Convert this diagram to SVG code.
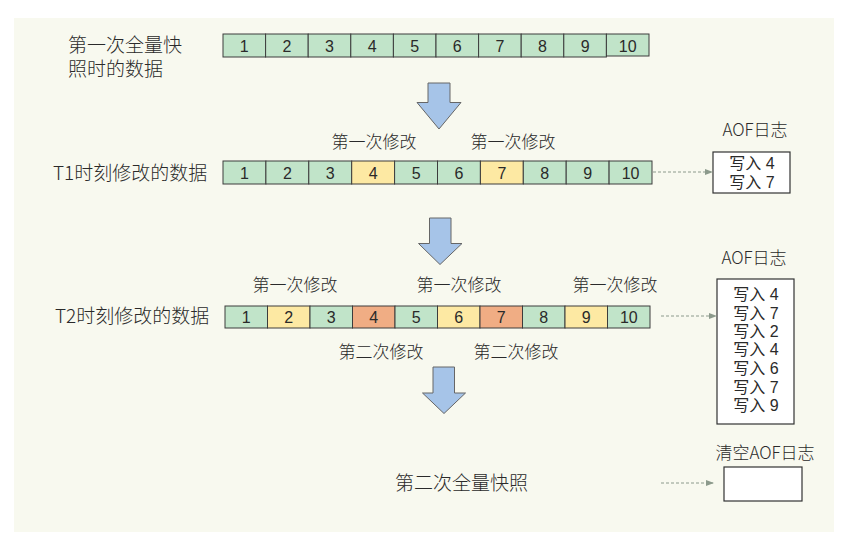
<svg xmlns="http://www.w3.org/2000/svg" width="848" height="546" viewBox="0 0 848 546">
<style>
text{font-family:"Liberation Sans","Noto Sans CJK SC",sans-serif;fill:#2a2a2a;dominant-baseline:central}
.cjk{font-family:"Noto Sans CJK SC",sans-serif;font-weight:300}
.lbl{font-size:19px}
.mod{font-size:17px;text-anchor:middle}
.num{font-size:16px;text-anchor:middle}
.log{font-size:16px;text-anchor:middle}
.g{fill:#c1e4c9;stroke:#3c3c3c;stroke-width:1}
.y{fill:#fde9a3;stroke:#3c3c3c;stroke-width:1}
.o{fill:#f0ad84;stroke:#3c3c3c;stroke-width:1}
.box{fill:#fff;stroke:#333;stroke-width:1.2}
.big{fill:#a6c4e8;stroke:#666;stroke-width:1}
.dash{stroke:#8c9a8c;stroke-width:1;stroke-dasharray:3,2;fill:none}
</style>
<defs>
<marker id="ah" viewBox="0 0 8 8" refX="7" refY="4" markerWidth="8" markerHeight="8" markerUnits="userSpaceOnUse" orient="auto">
<path d="M0,1 L8,4 L0,7 Z" fill="#8c9a8c"/>
</marker>
</defs>
<rect x="0" y="0" width="848" height="546" fill="#fff"/>
<rect x="14" y="18" width="820" height="514" fill="#f8f9ef"/>

<g id="row1">
<text class="lbl cjk" x="68" y="43.5">第一次全量快</text>
<text class="lbl cjk" x="68" y="67">照时的数据</text>
<rect class="g" x="223" y="34" width="42.6" height="23"/>
<rect class="g" x="265.6" y="34" width="42.6" height="23"/>
<rect class="g" x="308.2" y="34" width="42.6" height="23"/>
<rect class="g" x="350.8" y="34" width="42.6" height="23"/>
<rect class="g" x="393.4" y="34" width="42.6" height="23"/>
<rect class="g" x="436" y="34" width="42.6" height="23"/>
<rect class="g" x="478.6" y="34" width="42.6" height="23"/>
<rect class="g" x="521.2" y="34" width="42.6" height="23"/>
<rect class="g" x="563.8" y="34" width="42.6" height="23"/>
<rect class="g" x="606.4" y="34" width="42.6" height="22"/>
<text class="num" x="244.3" y="46">1</text>
<text class="num" x="286.9" y="46">2</text>
<text class="num" x="329.5" y="46">3</text>
<text class="num" x="372.1" y="46">4</text>
<text class="num" x="414.7" y="46">5</text>
<text class="num" x="457.3" y="46">6</text>
<text class="num" x="499.9" y="46">7</text>
<text class="num" x="542.5" y="46">8</text>
<text class="num" x="585.1" y="46">9</text>
<text class="num" x="627.7" y="46">10</text>
</g>

<g id="arrow1"><path class="big" d="M428,83 H450 V102.5 H461 L439,129 L417,102.5 H428 Z"/></g>

<g id="row2">
<text class="lbl cjk" x="53" y="171">T1时刻修改的数据</text>
<text class="mod cjk" x="374" y="140.5">第一次修改</text>
<text class="mod cjk" x="513" y="140.5">第一次修改</text>
<rect class="g" x="223" y="161" width="42.9" height="23"/>
<rect class="g" x="265.9" y="161" width="42.9" height="23"/>
<rect class="g" x="308.8" y="161" width="42.9" height="23"/>
<rect class="y" x="351.7" y="161" width="42.9" height="23"/>
<rect class="g" x="394.6" y="161" width="42.9" height="23"/>
<rect class="g" x="437.5" y="161" width="42.9" height="23"/>
<rect class="y" x="480.4" y="161" width="42.9" height="23"/>
<rect class="g" x="523.3" y="161" width="42.9" height="23"/>
<rect class="g" x="566.2" y="161" width="42.9" height="23"/>
<rect class="g" x="609.1" y="161" width="42.9" height="23"/>
<text class="num" x="244.5" y="173">1</text>
<text class="num" x="287.4" y="173">2</text>
<text class="num" x="330.3" y="173">3</text>
<text class="num" x="373.2" y="173">4</text>
<text class="num" x="416.1" y="173">5</text>
<text class="num" x="459" y="173">6</text>
<text class="num" x="501.9" y="173">7</text>
<text class="num" x="544.8" y="173">8</text>
<text class="num" x="587.7" y="173">9</text>
<text class="num" x="630.6" y="173">10</text>
</g>

<g id="aof1">
<text class="mod cjk" x="755" y="128.5">AOF日志</text>
<rect class="box" x="713" y="152" width="77" height="41"/>
<text class="log" x="752" y="163">写入 4</text>
<text class="log" x="752" y="182">写入 7</text>
</g>

<g id="arrow2"><path class="big" d="M429.5,218 H451 V243.5 H462 L440,264.5 L418.5,243.5 H429.5 Z"/></g>

<g id="row3">
<text class="lbl cjk" x="55" y="314">T2时刻修改的数据</text>
<text class="mod cjk" x="295" y="283.5">第一次修改</text>
<text class="mod cjk" x="459" y="283.5">第一次修改</text>
<text class="mod cjk" x="615" y="283.5">第一次修改</text>
<text class="mod cjk" x="381" y="350.5">第二次修改</text>
<text class="mod cjk" x="516" y="350.5">第二次修改</text>
<rect class="g" x="225" y="306" width="42.5" height="22"/>
<rect class="y" x="267.5" y="306" width="42.5" height="22"/>
<rect class="g" x="310" y="306" width="42.5" height="22"/>
<rect class="o" x="352.5" y="306" width="42.5" height="22"/>
<rect class="g" x="395" y="306" width="42.5" height="22"/>
<rect class="y" x="437.5" y="306" width="42.5" height="22"/>
<rect class="o" x="480" y="306" width="42.5" height="22"/>
<rect class="g" x="522.5" y="306" width="42.5" height="22"/>
<rect class="y" x="565" y="306" width="42.5" height="22"/>
<rect class="g" x="607.5" y="306" width="42.5" height="22"/>
<text class="num" x="246.3" y="317">1</text>
<text class="num" x="288.8" y="317">2</text>
<text class="num" x="331.3" y="317">3</text>
<text class="num" x="373.8" y="317">4</text>
<text class="num" x="416.3" y="317">5</text>
<text class="num" x="458.8" y="317">6</text>
<text class="num" x="501.3" y="317">7</text>
<text class="num" x="543.8" y="317">8</text>
<text class="num" x="586.3" y="317">9</text>
<text class="num" x="628.8" y="317">10</text>
</g>

<g id="aof2">
<text class="mod cjk" x="754" y="256.5">AOF日志</text>
<rect class="box" x="717" y="279" width="77" height="145"/>
<text class="log" x="756" y="294">写入 4</text>
<text class="log" x="756" y="313">写入 7</text>
<text class="log" x="756" y="331">写入 2</text>
<text class="log" x="756" y="349">写入 4</text>
<text class="log" x="756" y="368">写入 6</text>
<text class="log" x="756" y="387">写入 7</text>
<text class="log" x="756" y="405">写入 9</text>
</g>

<g id="arrow3"><path class="big" d="M433,367 H454.5 V393 H465.5 L444,413.5 L422.5,393 H433 Z"/></g>

<g id="snapshot2">
<text class="lbl cjk" x="395" y="481.5">第二次全量快照</text>
</g>

<g id="aof3">
<text class="mod cjk" x="765" y="451.5">清空AOF日志</text>
<rect class="box" x="724" y="467" width="78" height="34"/>
</g>

<g id="connectors">
<line class="dash" x1="653" y1="172" x2="712" y2="172" marker-end="url(#ah)"/>
<line class="dash" x1="661" y1="316" x2="716" y2="316" marker-end="url(#ah)"/>
<line class="dash" x1="661" y1="483" x2="713" y2="483" marker-end="url(#ah)"/>
</g>
</svg>
